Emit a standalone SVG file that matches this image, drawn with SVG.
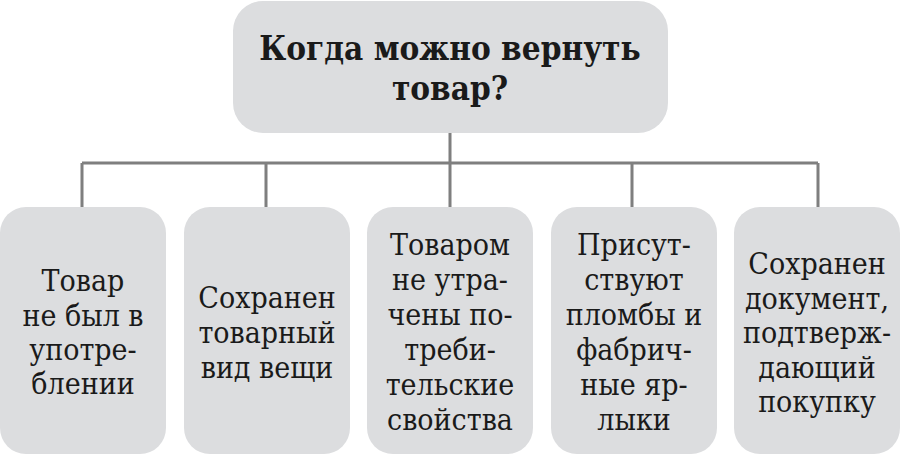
<svg xmlns="http://www.w3.org/2000/svg" width="900" height="455" viewBox="0 0 900 455">
<style>
.box{fill:#dcdddf;}
text{font-family:'DejaVu Serif Condensed','DejaVu Serif',serif;font-stretch:condensed;fill:#1a1a1a;text-anchor:middle;}
.t{font-size:30px;}
.h{font-size:33px;font-weight:bold;}
.c{stroke:#7f7f7f;stroke-width:3;fill:none;}
</style>
<rect width="900" height="455" fill="#ffffff"/>
<g id="connectors">
<path class="c" d="M450,133 V163 M82,163 H818 M82,163 V207 M266,163 V207 M450,163 V207 M632,163 V207 M818,163 V207"/>
</g>
<g id="root">
<rect class="box" x="233" y="1" width="435" height="132" rx="30"/>
<text class="h" x="450" y="60">Когда можно вернуть</text>
<text class="h" x="450" y="100">товар?</text>
</g>
<g id="n1">
<rect class="box" x="0" y="207" width="166" height="247" rx="26"/>
<text class="t" x="83" y="291">Товар</text>
<text class="t" x="83" y="325.5">не был в</text>
<text class="t" x="83" y="360">употре-</text>
<text class="t" x="83" y="394">блении</text>
</g>
<g id="n2">
<rect class="box" x="184" y="207" width="166" height="247" rx="26"/>
<text class="t" x="267" y="308">Сохранен</text>
<text class="t" x="267" y="343">товарный</text>
<text class="t" x="267" y="377.5">вид вещи</text>
</g>
<g id="n3">
<rect class="box" x="367" y="207" width="166" height="247" rx="26"/>
<text class="t" x="450" y="255">Товаром</text>
<text class="t" x="450" y="290">не утра-</text>
<text class="t" x="450" y="325">чены по-</text>
<text class="t" x="450" y="360">треби-</text>
<text class="t" x="450" y="395">тельские</text>
<text class="t" x="450" y="430">свойства</text>
</g>
<g id="n4">
<rect class="box" x="551" y="207" width="166" height="247" rx="26"/>
<text class="t" x="634" y="255">Присут-</text>
<text class="t" x="634" y="290">ствуют</text>
<text class="t" x="634" y="325">пломбы и</text>
<text class="t" x="634" y="360">фабрич-</text>
<text class="t" x="634" y="395">ные яр-</text>
<text class="t" x="634" y="430">лыки</text>
</g>
<g id="n5">
<rect class="box" x="734" y="207" width="166" height="247" rx="26"/>
<text class="t" x="817" y="274">Сохранен</text>
<text class="t" x="817" y="308.5">документ,</text>
<text class="t" x="817" y="343">подтверж-</text>
<text class="t" x="817" y="377.5">дающий</text>
<text class="t" x="817" y="412">покупку</text>
</g>
</svg>
